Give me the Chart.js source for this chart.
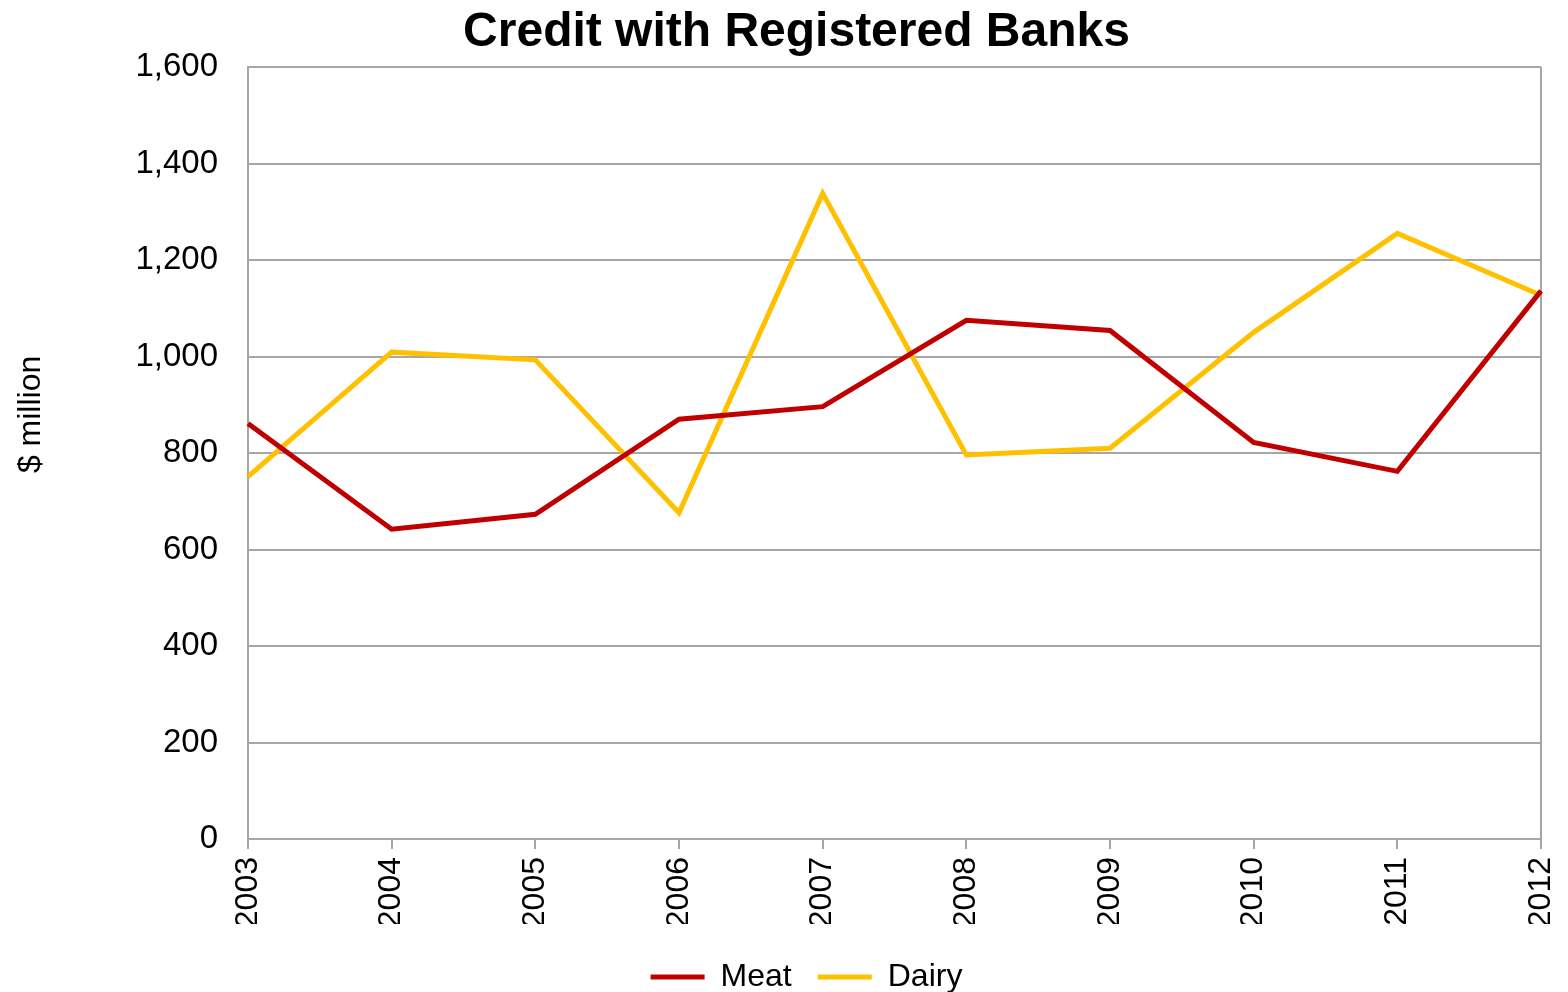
<!DOCTYPE html>
<html>
<head>
<meta charset="utf-8">
<title>Credit with Registered Banks</title>
<script src="https://cdn.jsdelivr.net/npm/chart.js@4.4.1/dist/chart.umd.min.js"></script>
<style>
  html, body { margin: 0; padding: 0; background: #ffffff; }
  #wrap { width: 1568px; height: 992px; position: relative; }
</style>
</head>
<body>
<div id="wrap"><canvas id="chart" width="1568" height="992"></canvas></div>
<script>
// Years on the category axis
const years = ['2003', '2004', '2005', '2006', '2007', '2008', '2009', '2010', '2011', '2012'];

// Credit with registered banks, $ million
const meat  = [861, 642, 673, 870, 896, 1075, 1054, 822, 762, 1136];
const dairy = [751, 1009, 993, 676, 1338, 796, 810, 1050, 1255, 1127];

// Value-axis ticks
const yTicks = [0, 200, 400, 600, 800, 1000, 1200, 1400, 1600];

const FONT = '"Liberation Sans", Arial, Helvetica, sans-serif';
const GRID = '#a6a6a6';
const INK = '#000000';

// Rotated value-axis caption drawn beside the tick labels
const sideCaption = {
  id: 'sideCaption',
  afterDraw(chart) {
    const ctx = chart.ctx;
    const area = chart.chartArea;
    ctx.save();
    ctx.translate(31, area.top + (area.bottom - area.top) * 0.45);
    ctx.rotate(-Math.PI / 2);
    ctx.font = '32px ' + FONT;
    ctx.fillStyle = INK;
    ctx.textAlign = 'center';
    ctx.textBaseline = 'middle';
    ctx.fillText('$ million', 0, 0);
    ctx.restore();
  }
};

// Nudge the title and legend blocks so they sit centred over the plot
const blockNudge = {
  id: 'blockNudge',
  afterLayout(chart) {
    const t = chart.titleBlock;
    if (t) { t.left += 26; t.right += 26; }
    const l = chart.legend;
    if (l) { l.left += 36; l.right += 36; l.top += 11; l.bottom += 11; }
  }
};

new Chart(document.getElementById('chart'), {
  type: 'line',
  data: {
    labels: years,
    datasets: [
      {
        label: 'Meat',
        data: meat,
        borderColor: '#C00000',
        backgroundColor: '#C00000',
        borderWidth: 5,
        pointRadius: 0,
        tension: 0,
        fill: false
      },
      {
        label: 'Dairy',
        data: dairy,
        borderColor: '#FFC000',
        backgroundColor: '#FFC000',
        borderWidth: 5,
        pointRadius: 0,
        tension: 0,
        fill: false
      }
    ]
  },
  options: {
    responsive: false,
    animation: false,
    events: [],
    layout: { padding: { left: 0, right: 27, top: 0, bottom: 0 } },
    plugins: {
      title: {
        display: true,
        text: 'Credit with Registered Banks',
        color: INK,
        font: { family: FONT, size: 48, weight: 'bold' },
        padding: { top: 4, bottom: 5.4 }
      },
      legend: {
        display: true,
        position: 'bottom',
        labels: {
          color: INK,
          font: { family: FONT, size: 32 },
          usePointStyle: true,
          pointStyle: 'line',
          pointStyleWidth: 54,
          padding: 26
        }
      },
      tooltip: { enabled: false }
    },
    scales: {
      x: {
        type: 'category',
        offset: false,
        grid: {
          display: true,
          drawOnChartArea: true,
          color: (c) => (c.index === years.length - 1 ? GRID : 'rgba(0,0,0,0)'),
          lineWidth: 2,
          drawTicks: true,
          tickLength: 10,
          tickColor: GRID,
          tickWidth: 2
        },
        border: { display: true, color: GRID, width: 2 },
        ticks: {
          color: INK,
          font: { family: FONT, size: 32 },
          minRotation: 90,
          maxRotation: 90,
          autoSkip: false,
          padding: 8
        },
        afterFit(scale) {
          const lh = scale.chart.legend ? scale.chart.legend.height : 0;
          scale.height = 992 - 839 - lh;
          scale.paddingLeft = 0;
          scale.paddingRight = 0;
        }
      },
      y: {
        type: 'linear',
        min: 0,
        max: 1600,
        grid: {
          color: GRID,
          lineWidth: 2,
          drawTicks: false
        },
        border: { display: true, color: GRID, width: 2 },
        ticks: {
          color: INK,
          font: { family: FONT, size: 33 },
          padding: 30,
          callback: (v) => v.toLocaleString('en-US')
        },
        afterBuildTicks(scale) {
          scale.ticks = yTicks.map((v) => ({ value: v }));
        },
        afterFit(scale) {
          scale.width = 248;
        }
      }
    }
  },
  plugins: [sideCaption, blockNudge]
});
</script>
</body>
</html>
